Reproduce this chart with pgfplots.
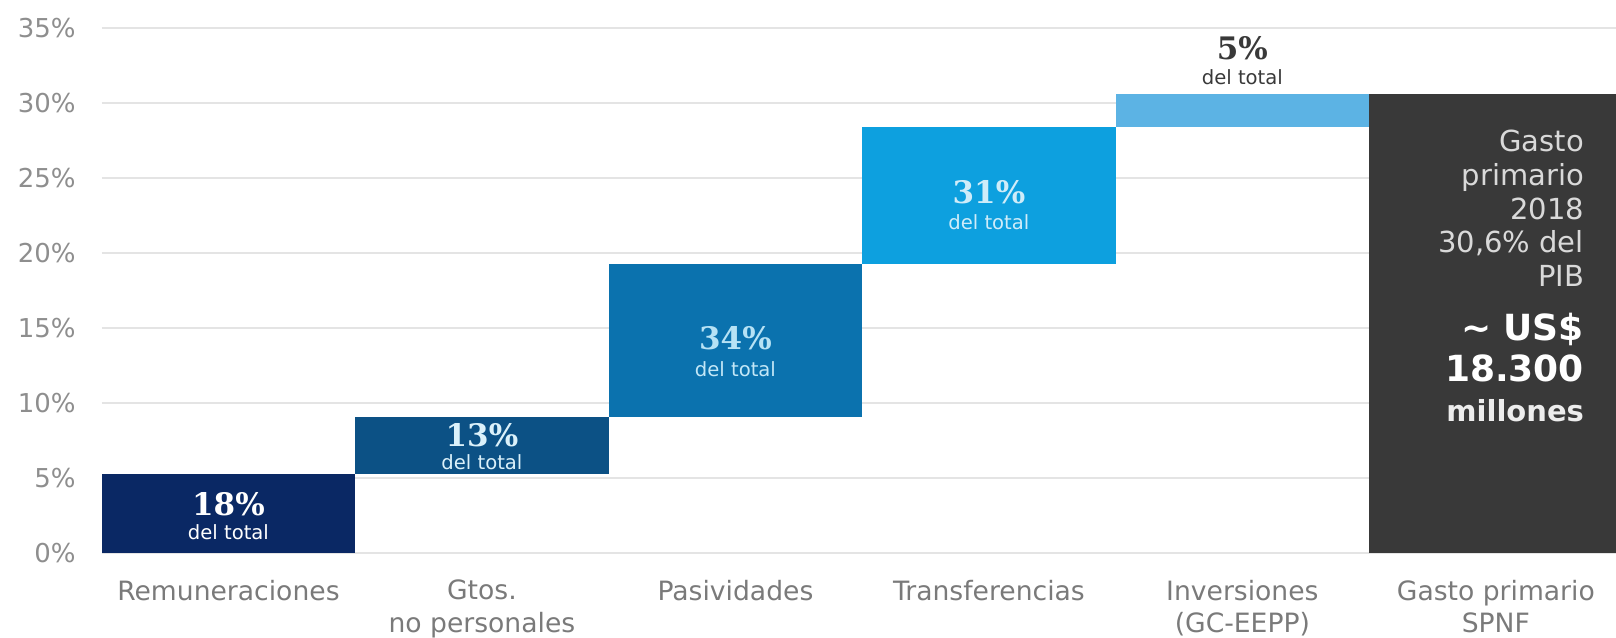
\documentclass[border=0pt]{standalone}
\usepackage{fontspec}
\setmainfont{DejaVu Sans}
\newfontfamily\numfont{DejaVu Serif}
\usepackage{pgfplots}
\pgfplotsset{compat=1.18}

\definecolor{cA}{HTML}{0A2864}
\definecolor{cB}{HTML}{0C5185}
\definecolor{cC}{HTML}{0B72AE}
\definecolor{cD}{HTML}{0DA0DF}
\definecolor{cE}{HTML}{5CB3E4}
\definecolor{cF}{HTML}{393939}
\definecolor{gridc}{HTML}{E4E4E4}
\definecolor{labc}{HTML}{7A7A7A}
\newcommand{\tild}{\textasciitilde}

\begin{document}
\begin{tikzpicture}
\begin{axis}[
    at={(0,0)}, anchor=south west,
    scale only axis, width=757.15pt, height=262.3pt,
    xmin=-0.5, xmax=5.474, ymin=0, ymax=35,
    ybar stacked, bar width=1,
    axis line style={draw=none},
    major tick length=0pt,
    ymajorgrids, grid style={gridc, line width=0.9pt},
    ytick={0,5,...,35},
    yticklabels={0\%,5\%,10\%,15\%,20\%,25\%,30\%,35\%},
    yticklabel style={text=labc!85!white, font=\fontsize{13}{15}\selectfont, xshift=-9.5pt},
    xtick={0,...,5},
    xticklabels={Remuneraciones,{Gtos.\\no personales},Pasividades,Transferencias,{Inversiones\\(GC-EEPP)},{Gasto primario\\SPNF}},
    xticklabel style={text=labc, align=center, anchor=north, yshift=-10pt,
        font=\fontsize{13.3}{16.2}\selectfont},
    clip=false,
]
% invisible base of the floating bars
\addplot[draw=none, fill=none] coordinates {(0,0) (1,5.3) (2,9.1) (3,19.3) (4,28.4) (5,0)};
\addplot[draw=none, fill=cA] coordinates {(0,5.3) (1,0) (2,0) (3,0) (4,0) (5,0)};
\addplot[draw=none, fill=cB] coordinates {(0,0) (1,3.8) (2,0) (3,0) (4,0) (5,0)};
\addplot[draw=none, fill=cC] coordinates {(0,0) (1,0) (2,10.2) (3,0) (4,0) (5,0)};
\addplot[draw=none, fill=cD] coordinates {(0,0) (1,0) (2,0) (3,9.1) (4,0) (5,0)};
\addplot[draw=none, fill=cE] coordinates {(0,0) (1,0) (2,0) (3,0) (4,2.2) (5,0)};
\addplot[draw=none, fill=cF] coordinates {(0,0) (1,0) (2,0) (3,0) (4,0) (5,30.6)};

% anchors for the labels, drawn after the bars
\coordinate (p1) at (axis cs:0,3.28);
\coordinate (p2) at (axis cs:1,7.89);
\coordinate (p3) at (axis cs:2,14.32);
\coordinate (p4) at (axis cs:3,24.04);
\coordinate (p5) at (axis cs:4,33.7);
\coordinate (d1) at (axis cs:0,1.39);
\coordinate (d2) at (axis cs:1,6.05);
\coordinate (d3) at (axis cs:2,12.25);
\coordinate (d4) at (axis cs:3,22.1);
\coordinate (d5) at (axis cs:4,31.74);
\coordinate (g1) at (axis cs:5.349,26.78);
\coordinate (g2) at (axis cs:5.349,24.53);
\coordinate (g3) at (axis cs:5.349,22.28);
\coordinate (g4) at (axis cs:5.349,20.03);
\coordinate (g5) at (axis cs:5.349,17.78);
\coordinate (g6) at (axis cs:5.349,14.21);
\coordinate (g7) at (axis cs:5.349,11.43);
\coordinate (g8) at (axis cs:5.349,8.76);
\end{axis}

\begin{scope}[font=\numfont\bfseries\fontsize{15.5}{17}\selectfont]
\node[white] at (p1) {18\%};
\node[white!85!cD] at (p2) {13\%};
\node[white!70!cD] at (p3) {34\%};
\node[white!80!cD] at (p4) {31\%};
\node[text=cF] at (p5) {5\%};
\end{scope}
\begin{scope}[font=\fontsize{9.8}{11}\selectfont]
\node[white] at (d1) {del total};
\node[white!85!cD] at (d2) {del total};
\node[white!75!cD] at (d3) {del total};
\node[white!80!cD] at (d4) {del total};
\node[text=cF] at (d5) {del total};
\end{scope}
\begin{scope}[font=\fontsize{14.5}{16}\selectfont, text=white!85!black, inner sep=0pt]
\node[anchor=base east] at (g1) {Gasto};
\node[anchor=base east] at (g2) {primario};
\node[anchor=base east] at (g3) {2018};
\node[anchor=base east] at (g4) {30,6\% del};
\node[anchor=base east] at (g5) {PIB};
\end{scope}
\begin{scope}[inner sep=0pt]
\node[anchor=base east, white, font=\bfseries\fontsize{18}{20}\selectfont] at (g6) {\tild{} US\$};
\node[anchor=base east, white, font=\bfseries\fontsize{18}{20}\selectfont] at (g7) {18.300};
\node[anchor=base east, white!93!black, font=\bfseries\fontsize{14.5}{16}\selectfont] at (g8) {millones};
\end{scope}

\pgfresetboundingbox
\path[use as bounding box] (-50.85pt,-42pt) rectangle (757.15pt,276.5pt);
\end{tikzpicture}
\end{document}
